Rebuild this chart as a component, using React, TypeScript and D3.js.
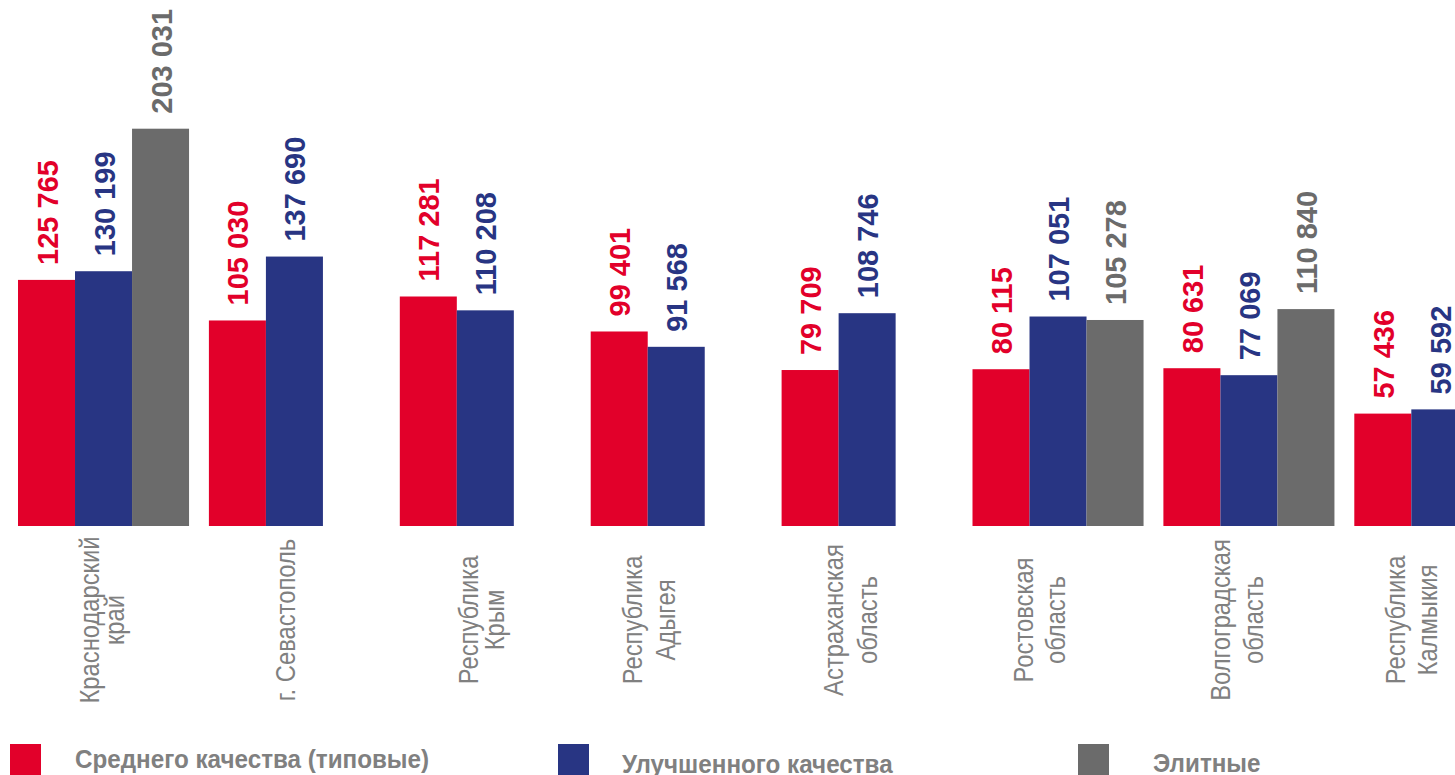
import React from 'react';
import * as d3 from 'd3';

const categories: string[][] = [
  ['Краснодарский', 'край'],
  ['г. Севастополь'],
  ['Республика', 'Крым'],
  ['Республика', 'Адыгея'],
  ['Астраханская', 'область'],
  ['Ростовская', 'область'],
  ['Волгоградская', 'область'],
  ['Республика', 'Калмыкия'],
];
const seriesNames = ['Среднего качества (типовые)', 'Улучшенного качества', 'Элитные'];
const averageValues: (number | null)[] = [125765, 105030, 117281, 99401, 79709, 80115, 80631, 57436];
const improvedValues: (number | null)[] = [130199, 137690, 110208, 91568, 108746, 107051, 77069, 59592];
const eliteValues: (number | null)[] = [203031, null, null, null, null, 105278, 110840, null];

// layout: per-category baseline offsets (px from group centre) of the rotated label lines
const LABEL_LINE_OFFSETS: number[][] = [
  [-4.5, 20.5],
  [0.5],
  [-7.5, 18.5],
  [-34.5, -1.5],
  [-24.5, 9.5],
  [-25, 7],
  [-19, 14],
  [-35, -3],
];

const COLORS = ['#e2002a', '#283583', '#6b6b6b'];
const LABEL_GRAY = '#808080';
const FONT = "'Liberation Sans', Arial, sans-serif";

const W = 1455;
const H = 775;
const BASE = 526;
const STEP = 190.9;
const PAD = 0.104;
const LEGEND_POS = [
  { sx: 10, tx: 75, ty: 768 },
  { sx: 558, tx: 622, ty: 773 },
  { sx: 1078, tx: 1153, ty: 772 },
];

const fmt = d3
  .formatLocale({ decimal: ',', thousands: ' ', grouping: [3], currency: ['', ''] })
  .format(',d');

export default function App() {
  const series = [averageValues, improvedValues, eliteValues];
  const idx = categories.map((_, i) => String(i));
  const x0 = d3
    .scaleBand<string>()
    .domain(idx)
    .range([18, 18 + STEP * (categories.length - PAD)])
    .paddingInner(PAD)
    .paddingOuter(0);
  const x1 = d3.scaleBand<number>().domain([0, 1, 2]).range([0, x0.bandwidth()]).padding(0);
  const y = d3.scaleLinear().domain([0, 268800]).range([BASE, 0]);

  return (
    <svg
      width={W}
      height={H}
      style={{ position: 'fixed', left: 0, top: 0, background: '#fff' }}
      fontFamily={FONT}
    >
      {series.map((vals, s) =>
        vals.map((v, i) => {
          if (v == null) return null;
          const bx = (x0(String(i)) as number) + (x1(s) as number);
          const bw = x1.bandwidth();
          const top = y(v);
          const cx = bx + bw / 2;
          return (
            <g key={`b${s}-${i}`}>
              <rect x={bx} y={top} width={bw} height={BASE - top} fill={COLORS[s]} />
              <text
                transform={`translate(${cx + 11},${top - 15}) rotate(-90)`}
                fontSize={29}
                fontWeight="bold"
                fill={COLORS[s]}
              >
                {fmt(v)}
              </text>
            </g>
          );
        })
      )}
      {categories.map((lines, i) => {
        const cx = (x0(String(i)) as number) + x0.bandwidth() / 2;
        const offs = LABEL_LINE_OFFSETS[i];
        return (
          <text
            key={`c${i}`}
            transform={`translate(${cx},620) rotate(-90) scale(0.88,1)`}
            fontSize={27}
            fill={LABEL_GRAY}
            textAnchor="middle"
          >
            {lines.map((l, j) => (
              <tspan key={j} x={0} y={offs[j]}>
                {l}
              </tspan>
            ))}
          </text>
        );
      })}
      {seriesNames.map((name, s) => (
        <g key={`l${s}`}>
          <rect x={LEGEND_POS[s].sx} y={744} width={31} height={31} fill={COLORS[s]} />
          <text
            transform={`translate(${LEGEND_POS[s].tx},${LEGEND_POS[s].ty}) scale(0.95,1)`}
            fontSize={25.5}
            fontWeight="bold"
            fill={LABEL_GRAY}
          >
            {name}
          </text>
        </g>
      ))}
    </svg>
  );
}
